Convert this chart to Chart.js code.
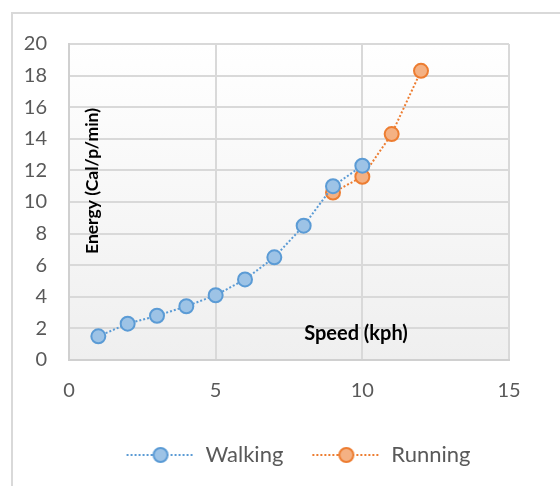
<!DOCTYPE html>
<html>
<head>
<meta charset="utf-8">
<script src="https://cdn.jsdelivr.net/npm/chart.js@4"></script>
<style>
  body{margin:0;background:#fff;}
  #wrap{position:relative;width:560px;height:486px;overflow:hidden;}
  #frame{position:absolute;left:11px;top:12px;width:600px;height:500px;border-left:2px solid #d9d9d9;border-top:2px solid #d9d9d9;}
  canvas{position:absolute;left:0;top:0;}
</style>
</head>
<body>
<div id="wrap">
  <div id="frame"></div>
  <canvas id="chart" width="560" height="486"></canvas>
</div>
<script>
// data
var walkSpeed=[1,2,3,4,5,6,7,8,9,10];
var walkEnergy=[1.5,2.3,2.8,3.4,4.1,5.1,6.5,8.5,11.0,12.3];
var runSpeed=[9,10,11,12];
var runEnergy=[10.6,11.6,14.3,18.3];
var seriesNames=["Walking","Running"];
var xTitle="Speed (kph)";
var yTitle="Energy (Cal/p/min)";

var blue="#5b9bd5", blueFill="#9dc3e6";
var orange="#ed7d31", orangeFill="#f4b183";
var font="Lato, 'Open Sans', sans-serif";

function pts(xs,ys){
    var out=[];
    for(var i=0;i<xs.length;i++){ out.push({x:xs[i],y:ys[i]}); }
    return out;
}

// legend marker: dotted line with circle in the middle
function legendIcon(line,fill){
    var c=document.createElement("canvas");
    c.width=87; c.height=18;
    var g=c.getContext("2d");
    g.strokeStyle=line; g.lineWidth=2; g.setLineDash([2,2]);
    g.beginPath(); g.moveTo(19,9); g.lineTo(87,9); g.stroke();
    g.setLineDash([]);
    g.beginPath(); g.arc(53,9,7,0,Math.PI*2);
    g.fillStyle=fill; g.fill(); g.stroke();
    return c;
}
var icons=[legendIcon(blue,blueFill),legendIcon(orange,orangeFill)];

var insideLabels={
    id:"insideLabels",
    beforeDraw:function(chart){
        var a=chart.chartArea, ctx=chart.ctx;
        var grd=ctx.createLinearGradient(0,a.top,0,a.bottom);
        grd.addColorStop(0,"#ffffff");
        grd.addColorStop(1,"#efefef");
        ctx.save();
        ctx.fillStyle=grd;
        ctx.fillRect(a.left,a.top,a.right-a.left,a.bottom-a.top);
        ctx.restore();
    },
    afterDraw:function(chart){
        var a=chart.chartArea, ctx=chart.ctx;
        ctx.save();
        ctx.fillStyle="#000";
        ctx.textAlign="center";
        ctx.textBaseline="middle";
        ctx.font="bold 20px "+font;
        ctx.fillText(xTitle,a.left+287,a.bottom-26);
        ctx.font="bold 17.5px "+font;
        ctx.translate(a.left+23,a.top+137);
        ctx.rotate(-Math.PI/2);
        ctx.fillText(yTitle,0,0);
        ctx.restore();
    }
};

var ctx=document.getElementById("chart").getContext("2d");
var mychart=new Chart(ctx,{
    type:"scatter",
    data:{
        datasets:[
            {
                label:seriesNames[0],
                data:pts(walkSpeed,walkEnergy),
                showLine:true,
                borderColor:blue,
                borderWidth:2,
                borderDash:[2,2],
                backgroundColor:blueFill,
                pointRadius:7,
                pointHoverRadius:7,
                pointBorderWidth:2,
                pointBorderColor:blue,
                pointBackgroundColor:blueFill
            },
            {
                label:seriesNames[1],
                data:pts(runSpeed,runEnergy),
                showLine:true,
                borderColor:orange,
                borderWidth:2,
                borderDash:[2,2],
                backgroundColor:orangeFill,
                pointRadius:7,
                pointHoverRadius:7,
                pointBorderWidth:2,
                pointBorderColor:orange,
                pointBackgroundColor:orangeFill
            }
        ]
    },
    options:{
        responsive:false,
        animation:false,
        layout:{padding:{left:18,right:0,top:44,bottom:10}},
        plugins:{
            tooltip:{enabled:false},
            legend:{
                position:"bottom",
                labels:{
                    usePointStyle:true,
                    pointStyleWidth:87,
                    padding:10,
                    color:"#595959",
                    font:{family:font,size:22},
                    generateLabels:function(chart){
                        return chart.data.datasets.map(function(ds,i){
                            return {text:ds.label,pointStyle:icons[i],datasetIndex:i,fontColor:"#595959",lineWidth:0,hidden:false};
                        });
                    }
                }
            }
        },
        scales:{
            x:{
                type:"linear",
                min:0,max:15,
                ticks:{stepSize:5,padding:19,color:"#595959",font:{family:font,size:20}},
                grid:{color:"#d9d9d9",lineWidth:2,drawTicks:false},
                border:{display:true,color:"#d0d0d0",width:2},
                afterFit:function(s){s.height=74;}
            },
            y:{
                type:"linear",
                min:0,max:20,
                ticks:{stepSize:2,padding:22,color:"#595959",font:{family:font,size:20}},
                grid:{color:"#d9d9d9",lineWidth:2,drawTicks:false},
                border:{display:true,color:"#d0d0d0",width:2},
                afterFit:function(s){s.width=51;}
            },
            yR:{
                type:"linear",
                position:"right",
                display:true,
                ticks:{display:false},
                grid:{display:false},
                border:{display:false},
                afterFit:function(s){s.width=51;}
            }
        }
    },
    plugins:[insideLabels]
});
</script>
</body>
</html>
